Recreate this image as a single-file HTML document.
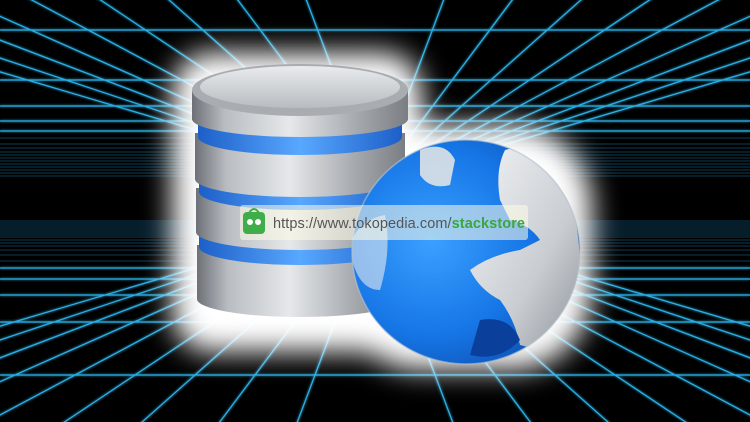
<!DOCTYPE html>
<html><head><meta charset="utf-8"><style>
html,body{margin:0;padding:0;background:#000;width:750px;height:422px;overflow:hidden;}
svg{display:block}
</style></head><body>
<svg width="750" height="422" viewBox="0 0 750 422" xmlns="http://www.w3.org/2000/svg">
<defs>
<filter id="glow" x="-20%" y="-20%" width="140%" height="140%"><feGaussianBlur stdDeviation="1.2" result="b"/><feMerge><feMergeNode in="b"/><feMergeNode in="SourceGraphic"/></feMerge></filter>
<filter id="blur" x="-30%" y="-30%" width="160%" height="160%"><feGaussianBlur stdDeviation="14"/></filter>
<linearGradient id="side" x1="0" x2="1" y1="0" y2="0">
<stop offset="0" stop-color="#6d7177"/><stop offset="0.15" stop-color="#b9bdc2"/><stop offset="0.45" stop-color="#e6e8ea"/><stop offset="0.75" stop-color="#a8acb1"/><stop offset="1" stop-color="#7a7e83"/></linearGradient>
<linearGradient id="topg" x1="0" x2="0" y1="0" y2="1"><stop offset="0" stop-color="#e9ebed"/><stop offset="1" stop-color="#b8bcc0"/></linearGradient>
<linearGradient id="band" x1="0" x2="1"><stop offset="0" stop-color="#1d5fc8"/><stop offset="0.5" stop-color="#58a8ff"/><stop offset="1" stop-color="#1d5fc8"/></linearGradient>
<radialGradient id="globe" cx="0.35" cy="0.45" r="0.7"><stop offset="0" stop-color="#3aa0ff"/><stop offset="0.6" stop-color="#1676e6"/><stop offset="1" stop-color="#0c4fb0"/></radialGradient>
<linearGradient id="silver" x1="0" x2="1" y1="0" y2="1"><stop offset="0" stop-color="#f2f4f6"/><stop offset="0.6" stop-color="#c9cdd2"/><stop offset="1" stop-color="#8b9096"/></linearGradient>
<clipPath id="gc"><ellipse cx="466" cy="252" rx="114" ry="112"/></clipPath>
</defs>
<rect width="750" height="422" fill="#000"/>
<g stroke="#2fc4ff" stroke-width="1.3" filter="url(#glow)" opacity="0.9">
<line x1="0" y1="375" x2="750" y2="375"/><line x1="0" y1="322" x2="750" y2="322"/><line x1="0" y1="295" x2="750" y2="295"/><line x1="0" y1="279" x2="750" y2="279"/><line x1="0" y1="268" x2="750" y2="268"/>
<line x1="0" y1="30" x2="750" y2="30"/><line x1="0" y1="80" x2="750" y2="80"/><line x1="0" y1="106" x2="750" y2="106"/><line x1="0" y1="121" x2="750" y2="121"/><line x1="0" y1="131" x2="750" y2="131"/>
<line x1="375" y1="215" x2="-705" y2="535"/><line x1="375" y1="215" x2="-585" y2="535"/><line x1="375" y1="215" x2="-465" y2="535"/><line x1="375" y1="215" x2="-345" y2="535"/><line x1="375" y1="215" x2="-225" y2="535"/><line x1="375" y1="215" x2="-105" y2="535"/><line x1="375" y1="215" x2="15" y2="535"/><line x1="375" y1="215" x2="135" y2="535"/><line x1="375" y1="215" x2="255" y2="535"/><line x1="375" y1="215" x2="495" y2="535"/><line x1="375" y1="215" x2="615" y2="535"/><line x1="375" y1="215" x2="735" y2="535"/><line x1="375" y1="215" x2="855" y2="535"/><line x1="375" y1="215" x2="975" y2="535"/><line x1="375" y1="215" x2="1095" y2="535"/><line x1="375" y1="215" x2="1215" y2="535"/><line x1="375" y1="215" x2="1335" y2="535"/><line x1="375" y1="215" x2="1455" y2="535"/>
<line x1="375" y1="183" x2="-705" y2="-137"/><line x1="375" y1="183" x2="-585" y2="-137"/><line x1="375" y1="183" x2="-465" y2="-137"/><line x1="375" y1="183" x2="-345" y2="-137"/><line x1="375" y1="183" x2="-225" y2="-137"/><line x1="375" y1="183" x2="-105" y2="-137"/><line x1="375" y1="183" x2="15" y2="-137"/><line x1="375" y1="183" x2="135" y2="-137"/><line x1="375" y1="183" x2="255" y2="-137"/><line x1="375" y1="183" x2="495" y2="-137"/><line x1="375" y1="183" x2="615" y2="-137"/><line x1="375" y1="183" x2="735" y2="-137"/><line x1="375" y1="183" x2="855" y2="-137"/><line x1="375" y1="183" x2="975" y2="-137"/><line x1="375" y1="183" x2="1095" y2="-137"/><line x1="375" y1="183" x2="1215" y2="-137"/><line x1="375" y1="183" x2="1335" y2="-137"/><line x1="375" y1="183" x2="1455" y2="-137"/>
</g>
<g stroke="#1f8fd0" stroke-width="0.7" opacity="0.55">
<line x1="0" y1="261" x2="750" y2="261"/><line x1="0" y1="255" x2="750" y2="255"/><line x1="0" y1="250" x2="750" y2="250"/><line x1="0" y1="246" x2="750" y2="246"/><line x1="0" y1="243" x2="750" y2="243"/><line x1="0" y1="240" x2="750" y2="240"/><line x1="0" y1="237" x2="750" y2="237"/><line x1="0" y1="235" x2="750" y2="235"/><line x1="0" y1="233" x2="750" y2="233"/><line x1="0" y1="231" x2="750" y2="231"/><line x1="0" y1="229" x2="750" y2="229"/><line x1="0" y1="227" x2="750" y2="227"/><line x1="0" y1="225" x2="750" y2="225"/><line x1="0" y1="223" x2="750" y2="223"/><line x1="0" y1="221" x2="750" y2="221"/>
<line x1="0" y1="138" x2="750" y2="138"/><line x1="0" y1="144" x2="750" y2="144"/><line x1="0" y1="148" x2="750" y2="148"/><line x1="0" y1="152" x2="750" y2="152"/><line x1="0" y1="155" x2="750" y2="155"/><line x1="0" y1="158" x2="750" y2="158"/><line x1="0" y1="161" x2="750" y2="161"/><line x1="0" y1="164" x2="750" y2="164"/><line x1="0" y1="167" x2="750" y2="167"/><line x1="0" y1="170" x2="750" y2="170"/><line x1="0" y1="173" x2="750" y2="173"/><line x1="0" y1="176" x2="750" y2="176"/>
</g>
<rect x="0" y="180" width="750" height="38" fill="#000" opacity="0.9"/>
<g filter="url(#blur)" fill="#fff">
<rect x="172" y="52" width="250" height="300" rx="40"/>
<rect x="340" y="125" width="252" height="245" rx="80"/>
</g>
<g>
<path d="M197 245 L197 299 A103 18 0 0 0 403 299 L403 245 Z" fill="url(#side)"/>
<path d="M199 228 L199 247 A101 18 0 0 0 401 247 L401 228 Z" fill="url(#band)"/>
<path d="M196 188 L196 232 A104 18 0 0 0 404 232 L404 188 Z" fill="url(#side)"/>
<path d="M199 173 L199 192 A101 18 0 0 0 401 192 L401 173 Z" fill="url(#band)"/>
<path d="M195 133 L195 179 A105 18 0 0 0 405 179 L405 133 Z" fill="url(#side)"/>
<path d="M198 118 L198 137 A102 18 0 0 0 402 137 L402 118 Z" fill="url(#band)"/>
<path d="M192 90 L192 119 A108 18 0 0 0 408 119 L408 90 Z" fill="url(#side)"/>
<ellipse cx="300" cy="90" rx="108" ry="26" fill="#a9adb2"/>
<ellipse cx="300" cy="87" rx="100" ry="21" fill="url(#topg)"/>
</g>
<ellipse cx="466" cy="252" rx="114" ry="112" fill="url(#globe)"/>
<g clip-path="url(#gc)">
<path d="M505 150 Q540 140 560 170 L575 210 L585 300 Q570 330 540 350 L520 345 Q515 320 500 300 Q480 290 470 270 Q490 255 520 250 L540 240 Q530 225 510 220 L500 200 Q495 170 505 150Z" fill="url(#silver)"/>
<path d="M420 150 Q445 140 455 160 L450 185 Q430 190 420 175Z" fill="#dfe3e7" opacity="0.9"/>
<path d="M352 240 Q360 220 385 215 Q392 250 380 290 Q360 290 352 260Z" fill="#e6eaee" opacity="0.6"/>
<path d="M480 320 Q510 315 520 340 Q500 362 470 355Z" fill="#0a3f9c"/>
</g>
<ellipse cx="466" cy="252" rx="114" ry="112" fill="none" stroke="#b9c4d0" stroke-width="1.5" opacity="0.6"/>
<rect x="240" y="205" width="288" height="35" rx="3" fill="#fffbe6" opacity="0.55"/>
<rect x="243" y="212" width="22" height="22" rx="4" fill="#3fae4a"/>
<circle cx="250" cy="222" r="3" fill="#fff"/><circle cx="258" cy="222" r="3" fill="#fff"/>
<path d="M249 213 Q254 205 259 213" fill="none" stroke="#3fae4a" stroke-width="2"/>
<text x="273" y="228" font-family="Liberation Sans, sans-serif" font-size="14.5" fill="#555" textLength="252">https://www.tokopedia.com/<tspan fill="#3aa63f" font-weight="bold">stackstore</tspan></text>
</svg>
</body></html>
